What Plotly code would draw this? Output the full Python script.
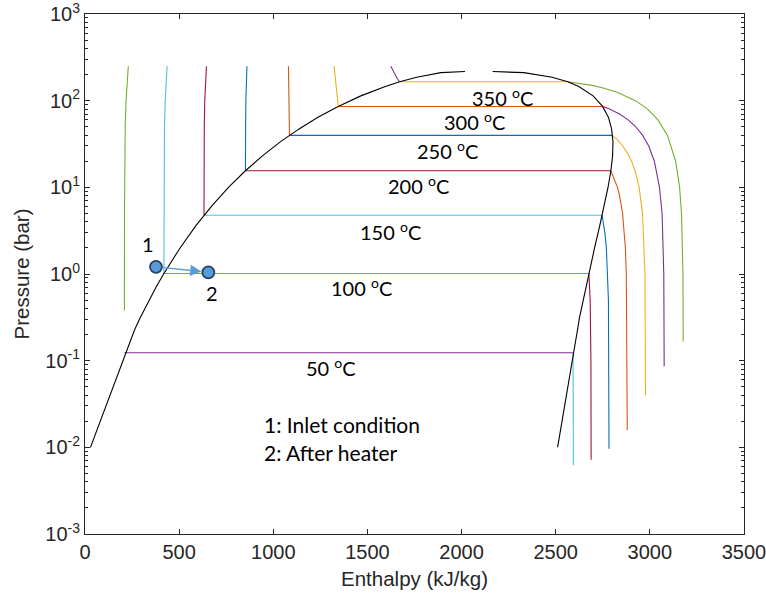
import plotly.graph_objects as go
import math

# Saturation dome of water (enthalpy kJ/kg, pressure bar), drawn in two branches
dome_liq_h = [29, 264, 293, 335, 377, 419, 504, 589, 676, 763, 852, 944, 1037, 1135,
              1237, 1345, 1462, 1595, 1671, 1762, 1890, 2018]
dome_liq_p = [0.0100, 0.229, 0.3119, 0.4739, 0.7014, 1.014, 1.985, 3.614, 6.18, 10.03,
              15.54, 23.18, 33.47, 46.9, 64.2, 85.8, 112.8, 145.9, 165.2, 186.7, 210.4, 217]
dome_vap_h = [2165, 2331, 2481, 2564, 2623, 2700, 2749, 2780, 2797, 2804, 2802, 2793,
              2778, 2758, 2734, 2706, 2676, 2660, 2643, 2626, 2616, 2510]
dome_vap_p = [217, 210.4, 186.7, 165.2, 145.9, 112.8, 85.8, 64.2, 46.9, 33.47, 23.18, 15.54,
              10.03, 6.18, 3.614, 1.985, 1.014, 0.7014, 0.4739, 0.3119, 0.229, 0.0100]

# Isotherm temperatures and saturation data
temps = [50, 100, 150, 200, 250, 300, 350]
p_sat = [0.1235, 1.014, 4.76, 15.54, 39.73, 85.8, 165.2]
h_f = [209, 419, 632, 852, 1086, 1345, 1671]
h_g = [2592, 2676, 2746, 2793, 2801, 2749, 2564]

# Compressed-liquid branch of each isotherm (from 250 bar down to saturation)
liq_p = [
    [250, 150, 100, 50, 20, 5, 0.378],
    [250, 150, 100, 50, 20, 1.014],
    [250, 150, 100, 50, 20, 4.76],
    [250, 150, 100, 50, 15.54],
    [250, 150, 100, 39.73],
    [250, 200, 150, 100, 85.8],
    [250, 225, 200, 180, 165.2],
]
liq_h = [
    [230, 222, 218, 213.5, 211, 209.7, 209.3],
    [436, 429, 426, 422, 420.5, 419],
    [645, 638.5, 636, 633.5, 632.5, 632],
    [860, 856, 854.5, 853, 852],
    [1080.5, 1083, 1084.5, 1086],
    [1323, 1328, 1335, 1343, 1345],
    [1624, 1635, 1646, 1658, 1671],
]

# Superheated-vapour branch of each isotherm
vap_p = [
    [0.1235, 0.05, 0.0062],
    [1.014, 0.5, 0.1, 0.0072],
    [4.76, 4, 3, 2, 1, 0.5, 0.0096],
    [15.54, 12, 10, 8, 5, 2, 1, 0.0157],
    [39.73, 35, 30, 25, 20, 15, 10, 5, 1, 0.0398],
    [85.8, 80, 70, 60, 50, 40, 30, 20, 10, 5, 1, 0.086],
    [165.2, 160, 150, 140, 125, 100, 80, 60, 40, 20, 10, 5, 1, 0.166],
]
vap_h = [
    [2592, 2593, 2594],
    [2676, 2683, 2687, 2688],
    [2746, 2752, 2761, 2769, 2776, 2780, 2783],
    [2793, 2816, 2828, 2839, 2855, 2870, 2875, 2880],
    [2801, 2830, 2856, 2880, 2903, 2924, 2943, 2961, 2974, 2977],
    [2749, 2786, 2839, 2885, 2925, 2961, 2994, 3024, 3051, 3065, 3074, 3076],
    [2564, 2615, 2693, 2752, 2826, 2924, 2988, 3043, 3093, 3137, 3158, 3168, 3176, 3177],
]

# Process states
state_h = [377, 655]
state_p = [1.21, 1.046]
state_names = ["1", "2"]

# MATLAB default colour order
BLUE, ORANGE, YELLOW, PURPLE = "#0072BD", "#D95319", "#EDB120", "#7E2F8E"
GREEN, LBLUE, DRED = "#77AC30", "#4DBEEE", "#A2142F"
cycle = [BLUE, ORANGE, YELLOW, PURPLE, GREEN, LBLUE, DRED]

fig = go.Figure()

for i, T in enumerate(temps):
    c_liq = cycle[(4 + i) % 7]
    c_two = cycle[(3 + i) % 7]
    c_vap = cycle[(5 + i) % 7]
    fig.add_trace(go.Scatter(x=liq_h[i], y=liq_p[i], mode="lines",
                             line=dict(color=c_liq, width=1.1), hoverinfo="skip"))
    fig.add_trace(go.Scatter(x=[h_f[i], h_g[i]], y=[p_sat[i], p_sat[i]], mode="lines",
                             line=dict(color=c_two, width=1.1), hoverinfo="skip"))
    fig.add_trace(go.Scatter(x=vap_h[i], y=vap_p[i], mode="lines",
                             line=dict(color=c_vap, width=1.1), hoverinfo="skip"))

fig.add_trace(go.Scatter(x=dome_liq_h, y=dome_liq_p, mode="lines",
                         line=dict(color="black", width=1.1), hoverinfo="skip"))
fig.add_trace(go.Scatter(x=dome_vap_h, y=dome_vap_p, mode="lines",
                         line=dict(color="black", width=1.1), hoverinfo="skip"))

fig.add_trace(go.Scatter(x=state_h, y=state_p, mode="markers",
                         marker=dict(size=12, color="#5B9BD5",
                                     line=dict(color="#24416B", width=1.8)),
                         hoverinfo="skip"))

ann_font = dict(family="Lato, Calibri, sans-serif", size=20, color="black")
key_font = dict(family="Lato, Calibri, sans-serif", size=21, color="black")

# Isotherm labels
label_h = [1306, 1471, 1620, 1769, 1923, 2071, 2220]
label_logp = [-1.069, -0.154, 0.501, 1.024, 1.436, 1.771, 2.048]
for T, lh, lp in zip(temps, label_h, label_logp):
    fig.add_annotation(x=lh, y=lp, text=f"{T} <sup>o</sup>C", showarrow=False,
                       font=ann_font, xanchor="center", yanchor="middle")

# State numbers
fig.add_annotation(x=335, y=0.351, text=state_names[0], showarrow=False, font=ann_font)
fig.add_annotation(x=674, y=-0.215, text=state_names[1], showarrow=False, font=ann_font)

# Heating arrow from state 1 to state 2
fig.add_annotation(x=state_h[1], y=math.log10(state_p[1]),
                   ax=state_h[0], ay=math.log10(state_p[0]),
                   axref="x", ayref="y", xref="x", yref="y", text="",
                   showarrow=True, arrowhead=2, arrowsize=1.6, arrowwidth=1.4,
                   arrowcolor="#5B9BD5", standoff=7, startstandoff=6)

# Key
fig.add_annotation(x=940, y=-1.739, text="1: Inlet condition", showarrow=False,
                   font=key_font, xanchor="left")
fig.add_annotation(x=940, y=-2.062, text="2: After heater", showarrow=False,
                   font=key_font, xanchor="left")

axis_color = "#262626"
tick_font = dict(family="Liberation Sans, Arial, sans-serif", size=20, color=axis_color)
title_font = dict(family="Liberation Sans, Arial, sans-serif", size=20.5, color=axis_color)

x_ticks = [0, 500, 1000, 1500, 2000, 2500, 3000, 3500]
y_exps = [-3, -2, -1, 0, 1, 2, 3]
y_minor = [m * 10 ** e for e in range(-3, 3) for m in range(2, 10)]

fig.update_xaxes(range=[0, 3500], tickvals=x_ticks, ticktext=[str(v) for v in x_ticks],
                 ticks="inside", ticklen=5, tickcolor=axis_color, showline=True,
                 linecolor=axis_color, linewidth=1, mirror="ticks", showgrid=False,
                 zeroline=False, tickfont=tick_font, automargin=False,
                 ticklabeloverflow="allow",
                 title=dict(text="Enthalpy (kJ/kg)", font=title_font, standoff=9))
fig.update_yaxes(type="log", range=[-3, 3], tickvals=[10.0 ** e for e in y_exps],
                 ticktext=[f"10<sup>{e}</sup>" for e in y_exps],
                 ticks="inside", ticklen=5, tickcolor=axis_color, showline=True,
                 linecolor=axis_color, linewidth=1, mirror="ticks", showgrid=False,
                 zeroline=False, tickfont=tick_font, automargin=False,
                 ticklabeloverflow="allow",
                 minor=dict(tickvals=y_minor, ticks="inside", ticklen=3,
                            tickcolor=axis_color, showgrid=False),
                 title=dict(text="Pressure (bar)", font=title_font, standoff=10))

fig.update_layout(width=766, height=601, showlegend=False,
                  margin=dict(l=85, r=22, t=14, b=67),
                  paper_bgcolor="white", plot_bgcolor="white")

fig.write_html("out.html")
